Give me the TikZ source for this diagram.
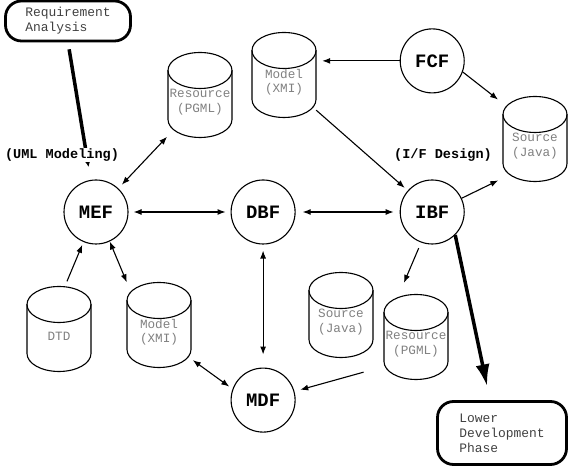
\documentclass[tikz,border=0pt]{standalone}
\usepackage{fontspec}
\setmonofont{Liberation Mono}
\usepackage{tikz}
\usetikzlibrary{arrows.meta, positioning}
\tikzset{
  facility/.style={circle, minimum size=64bp, inner sep=0pt, draw=black, line width=1.1bp, font=\ttfamily\bfseries\fontsize{19}{19}\selectfont},
  store/.style={rectangle, minimum width=64bp, minimum height=85bp, inner sep=0pt, align=center, text=black!50, font=\ttfamily\fontsize{12.7}{14.5}\selectfont,
    append after command={\pgfextra{\begin{pgfinterruptpath}
      \draw[line width=1.1bp] ([yshift=31.5bp]\tikzlastnode.center) ellipse [x radius=32bp, y radius=18bp];
      \draw[line width=1.1bp] ([xshift=-32bp, yshift=31.5bp]\tikzlastnode.center) -- ([xshift=-32bp, yshift=-17.5bp]\tikzlastnode.center)
        arc [start angle=180, end angle=360, x radius=32bp, y radius=18bp] -- ([xshift=32bp, yshift=31.5bp]\tikzlastnode.center);
    \end{pgfinterruptpath}}}},
  phase/.style={rectangle, rounded corners=16bp, align=left, draw=black, line width=2.8bp, text=black!75, font=\ttfamily\fontsize{13}{15}\selectfont},
  stage/.style={fill=white, inner sep=1bp, font=\ttfamily\bfseries\fontsize{13.6}{14}\selectfont},
  arrow/.style={line width=1.1bp, -{Latex[length=8bp,width=6bp]}},
  biarrow/.style={line width=1.1bp, {Latex[length=8bp,width=6bp]}-{Latex[length=8bp,width=6bp]}},
  flow/.style={line width=3.5bp, -{Latex[length=7bp,width=7bp]}},
  bigflow/.style={line width=3.5bp, -{Latex[length=22bp,width=14bp]}}
}
\begin{document}
\begin{tikzpicture}[x=1bp, y=1bp]
    \useasboundingbox (0,0) rectangle (574,474);
    % Defining nodes
    \node[phase, minimum width=125bp, minimum height=40bp] (req) at (68,453) {Requirement\\Analysis};
    \node[facility] (mef) at (96,262) {MEF};
    \node[facility, right=102bp of mef] (dbf) {DBF};
    \node[facility, right=104bp of dbf] (ibf) {IBF};
    \node[facility, above=86bp of ibf] (fcf) {FCF};
    \node[facility, below=123bp of dbf] (mdf) {MDF};
    \node[store] (resT) at (200,372) {Resource\\(PGML)};
    \node[store] (modT) at (284,392) {Model\\(XMI)};
    \node[store] (srcR) at (535,328) {Source\\(Java)};
    \node[store] (dtd) at (59,138) {DTD};
    \node[store] (modB) at (159,142) {Model\\(XMI)};
    \node[store] (srcM) at (341,152) {Source\\(Java)};
    \node[store] (resB) at (416,130) {Resource\\(PGML)};
    \node[phase, minimum width=129bp, minimum height=63bp] (low) at (502,41) {Lower\\Development\\Phase};

    % Drawing arrows
    \draw[flow, shorten <=7bp, shorten >=13bp] (req.south) -- (mef);
    \draw[biarrow, shorten <=1bp, shorten >=5bp] (resT) -- (mef);
    \draw[arrow, shorten >=6bp] (fcf.west) -- (fcf.west -| modT.east);
    \draw[arrow, shorten >=4bp] (modT) -- (ibf);
    \draw[arrow, shorten >=6bp] (fcf.-20) -- (srcR.north west);
    \draw[arrow, shorten >=5bp] (ibf.25) -- (srcR.225);
    \draw[biarrow, shorten <=5bp, shorten >=5bp] (mef) -- (dbf);
    \draw[biarrow, shorten <=7bp, shorten >=6bp] (dbf) -- (ibf);
    \draw[biarrow, shorten <=6bp, shorten >=13bp] (dbf) -- (mdf);
    \draw[arrow, shorten >=3bp] ([xshift=8bp, yshift=12bp]dtd.north) -- (mef);
    \draw[biarrow] (mef.-65) -- ([yshift=7bp]modB.north west);
    \draw[biarrow, shorten <=2bp, shorten >=4bp] (modB.-40) -- (mdf.160);
    \draw[arrow, shorten <=6bp, shorten >=20bp] (ibf.-110) -- (resB.115);
    \draw[arrow, shorten <=21bp, shorten >=6bp] (resB.215) -- (mdf);
    \draw[bigflow, shorten >=14bp] (ibf.-45) -- (low.110);

    % Phase labels
    \node[stage] (uml) at (62,319) {(UML Modeling)};
    \node[stage] (ifd) at (443,319) {(I/F Design)};
\end{tikzpicture}
\end{document}
